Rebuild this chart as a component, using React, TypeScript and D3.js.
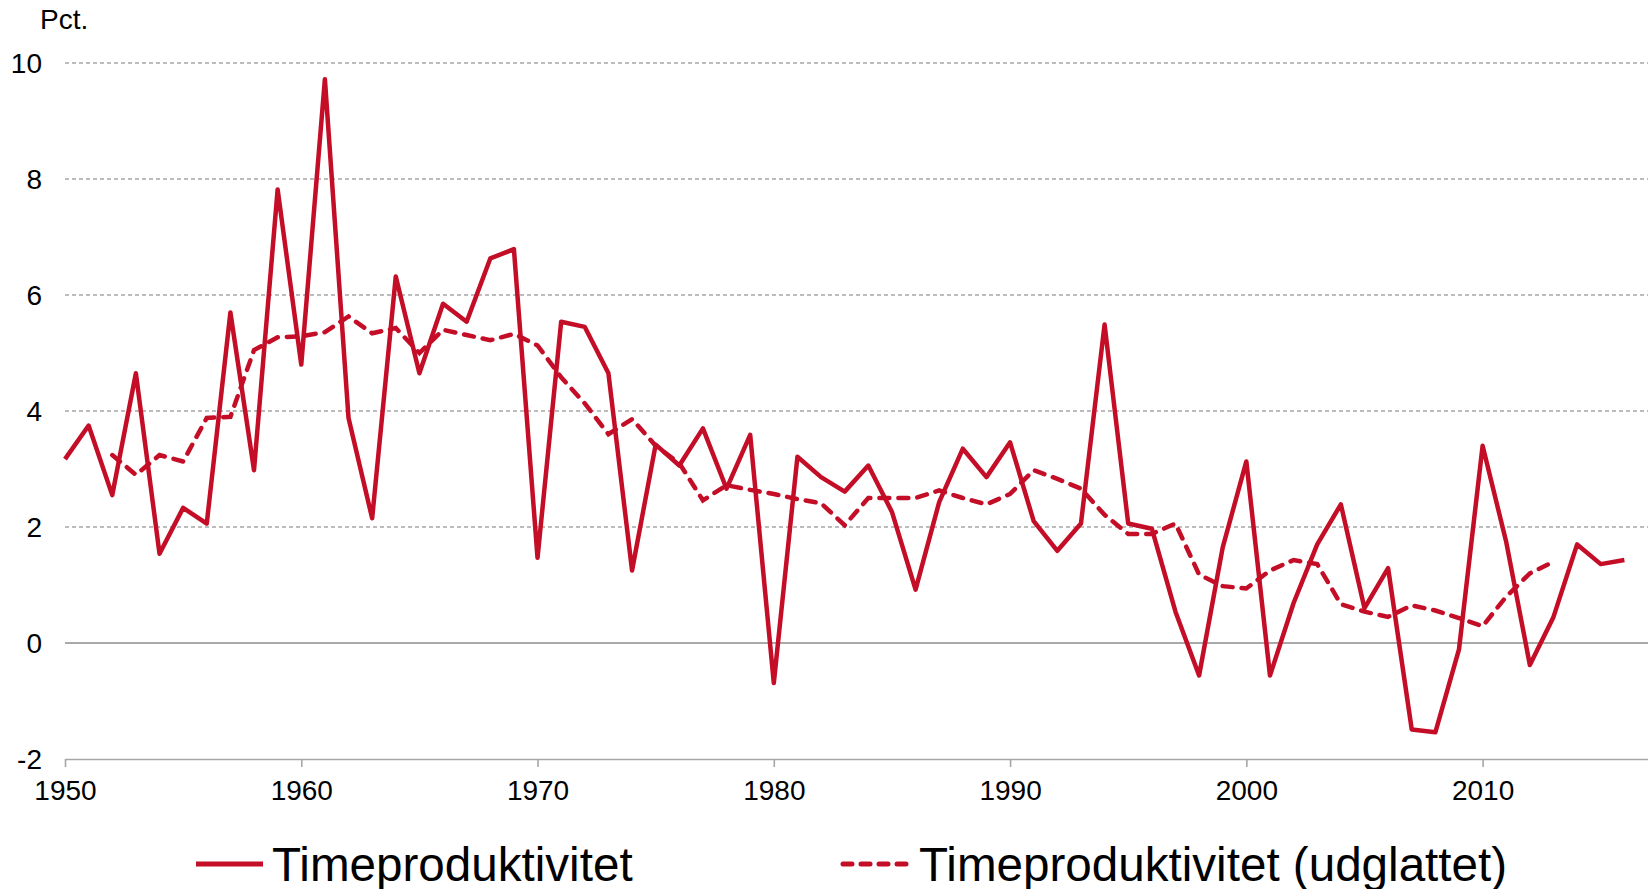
import { useEffect, useRef } from 'react';
import * as d3 from 'd3';

const years = d3.range(1950, 2017);

const productivity = [
  3.17, 3.75, 2.55, 4.65, 1.54, 2.33, 2.06, 5.7, 2.98, 7.82,
  4.8, 9.72, 3.88, 2.15, 6.32, 4.65, 5.85, 5.54, 6.63, 6.79,
  1.47, 5.54, 5.45, 4.65, 1.25, 3.42, 3.06, 3.7, 2.66, 3.59,
  -0.69, 3.21, 2.86, 2.61, 3.06, 2.26, 0.92, 2.43, 3.35, 2.86,
  3.46, 2.1, 1.59, 2.06, 5.49, 2.06, 1.97, 0.54, -0.56, 1.65,
  3.13, -0.56, 0.69, 1.7, 2.39, 0.6, 1.29, -1.49, -1.54, -0.11,
  3.4, 1.74, -0.38, 0.45, 1.7, 1.36, 1.43,
];

// smoothed series runs 1952-2013
const smoothedStart = 1952;
const smoothed = [
  3.24, 2.9, 3.24, 3.13, 3.88, 3.9, 5.05, 5.27,
  5.29, 5.36, 5.63, 5.34, 5.43, 5.0, 5.4, 5.31, 5.22, 5.33,
  5.13, 4.58, 4.13, 3.6, 3.86, 3.4, 3.1, 2.46, 2.72, 2.64,
  2.57, 2.48, 2.41, 2.03, 2.5, 2.5, 2.5, 2.63, 2.5, 2.39,
  2.57, 2.98, 2.83, 2.66, 2.21, 1.88, 1.88, 2.06, 1.18, 0.98,
  0.94, 1.25, 1.43, 1.36, 0.67, 0.54, 0.45, 0.65, 0.56, 0.43,
  0.29, 0.8, 1.2, 1.4,
];

const yTicks = [-2, 0, 2, 4, 6, 8, 10];
const xTicks = [1950, 1960, 1970, 1980, 1990, 2000, 2010];
const legendLabels = ['Timeproduktivitet', 'Timeproduktivitet (udglattet)'];

export default function App() {
  const svgRef = useRef<SVGSVGElement>(null);

  useEffect(() => {
    if (!svgRef.current) return;
    const width = 1648;
    const height = 889;
    const margin = { top: 63, right: 0, bottom: 130, left: 65 };
    const red = '#C40D26';
    const font = 'Arial, "Liberation Sans", sans-serif';

    d3.select(svgRef.current).selectAll('*').remove();
    const svg = d3.select(svgRef.current)
      .attr('width', width)
      .attr('height', height);

    const x = d3.scaleLinear()
      .domain([1950, 2017])
      .range([margin.left, width - margin.right]);

    const y = d3.scaleLinear()
      .domain([-2, 10])
      .range([height - margin.bottom, margin.top]);

    // gridlines
    svg.append('g')
      .selectAll('line')
      .data(yTicks.filter(t => t > 0))
      .join('line')
      .attr('x1', x(1950))
      .attr('x2', x(2017))
      .attr('y1', d => y(d))
      .attr('y2', d => y(d))
      .attr('stroke', '#A6A6A6')
      .attr('stroke-width', 1.3)
      .attr('stroke-dasharray', '4 3');

    // zero line
    svg.append('line')
      .attr('x1', x(1950))
      .attr('x2', x(2017))
      .attr('y1', y(0))
      .attr('y2', y(0))
      .attr('stroke', '#8C8C8C')
      .attr('stroke-width', 1.6);

    // bottom axis
    const xAxis = svg.append('g')
      .attr('transform', `translate(0,${y(-2)})`)
      .call(d3.axisBottom(x).tickValues(xTicks).tickFormat(d3.format('d')).tickSizeInner(8).tickSizeOuter(0).tickPadding(13));
    xAxis.select('.domain').attr('stroke', '#A6A6A6').attr('stroke-width', 1.6);
    xAxis.selectAll('.tick line').attr('stroke', '#A6A6A6').attr('stroke-width', 1.6);
    xAxis.selectAll('text')
      .style('font-family', font)
      .style('font-size', '28px')
      .attr('fill', '#000');

    // y labels
    svg.append('g')
      .selectAll('text')
      .data(yTicks)
      .join('text')
      .attr('x', 42)
      .attr('y', d => y(d))
      .attr('dy', '0.35em')
      .attr('text-anchor', 'end')
      .style('font-family', font)
      .style('font-size', '28px')
      .text(d => String(d));

    svg.append('text')
      .attr('x', 40)
      .attr('y', 29)
      .style('font-family', font)
      .style('font-size', '28px')
      .text('Pct.');

    const line = d3.line<number>()
      .x((_, i) => x(years[i]))
      .y(d => y(d));

    const smoothLine = d3.line<number>()
      .x((_, i) => x(smoothedStart + i))
      .y(d => y(d));

    svg.append('path')
      .datum(smoothed)
      .attr('d', smoothLine)
      .attr('fill', 'none')
      .attr('stroke', red)
      .attr('stroke-width', 4.5)
      .attr('stroke-linecap', 'round')
      .attr('stroke-dasharray', '10 9');

    svg.append('path')
      .datum(productivity)
      .attr('d', line)
      .attr('fill', 'none')
      .attr('stroke', red)
      .attr('stroke-width', 4.5)
      .attr('stroke-linejoin', 'round');

    // legend
    const legendItems = [
      { label: legendLabels[0], x0: 196, dash: null },
      { label: legendLabels[1], x0: 843, dash: '9 9' },
    ];
    legendItems.forEach(item => {
      const g = svg.append('g');
      g.append('line')
        .attr('x1', item.x0)
        .attr('x2', item.x0 + 67)
        .attr('y1', 864)
        .attr('y2', 864)
        .attr('stroke', red)
        .attr('stroke-width', 5)
        .attr('stroke-linecap', item.dash ? 'round' : 'butt')
        .attr('stroke-dasharray', item.dash);
      g.append('text')
        .attr('x', item.x0 + 76)
        .attr('y', 881)
        .style('font-family', font)
        .style('font-size', '47.6px')
        .text(item.label);
    });
  }, []);

  return (
    <div style={{ position: 'absolute', left: 0, top: 0 }}>
      <svg ref={svgRef}></svg>
    </div>
  );
}
